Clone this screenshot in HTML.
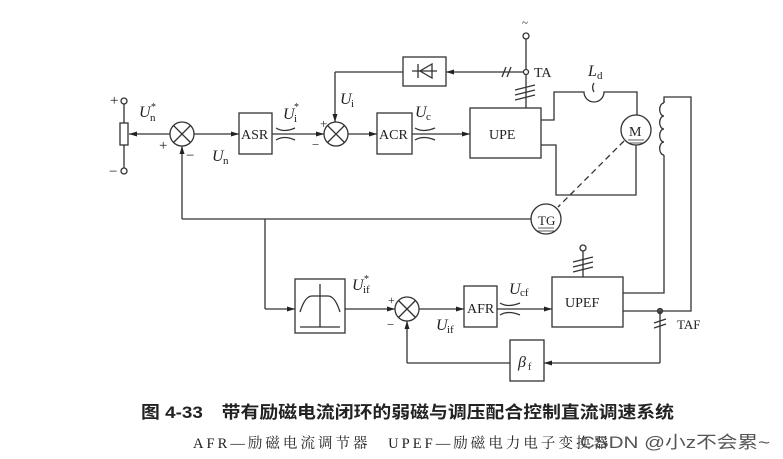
<!DOCTYPE html>
<html><head><meta charset="utf-8"><style>
html,body{margin:0;padding:0;background:#fff;width:783px;height:459px;overflow:hidden}
svg text{font-family:"Liberation Serif","Noto Serif CJK SC",serif;fill:#222}
</style></head><body>
<svg width="783" height="459" viewBox="0 0 783 459" xmlns="http://www.w3.org/2000/svg">
<defs><marker id="a" markerWidth="8" markerHeight="6" refX="8" refY="3" orient="auto" markerUnits="userSpaceOnUse"><path d="M0,0.5 L8,3 L0,5.5z" fill="#222"/></marker></defs>
<g stroke="#333" stroke-width="1.3" fill="none">
<circle cx="124" cy="101" r="3" fill="#fff"/><circle cx="124" cy="171" r="3" fill="#fff"/>
<line x1="124" y1="104" x2="124" y2="123"/><line x1="124" y1="145" x2="124" y2="168"/>
<rect x="120" y="123" width="8" height="22" fill="#fff"/>
<line x1="170" y1="134" x2="129" y2="134" marker-end="url(#a)"/>
<circle cx="182" cy="134" r="12"/><line x1="173.5" y1="125.5" x2="190.5" y2="142.5"/><line x1="190.5" y1="125.5" x2="173.5" y2="142.5"/>
<line x1="194" y1="134" x2="239" y2="134" marker-end="url(#a)"/>
<rect x="239" y="113" width="33" height="41"/>
<line x1="272" y1="134" x2="324" y2="134" marker-end="url(#a)"/>
<path d="M276,128 Q284,133 295,128 M276,140 Q284,135 295,140"/>
<circle cx="336" cy="134" r="12"/><line x1="327.5" y1="125.5" x2="344.5" y2="142.5"/><line x1="344.5" y1="125.5" x2="327.5" y2="142.5"/>
<line x1="348" y1="134" x2="377" y2="134" marker-end="url(#a)"/>
<rect x="377" y="113" width="35" height="41"/>
<line x1="412" y1="134" x2="470" y2="134" marker-end="url(#a)"/>
<path d="M415,128 Q423,133 435,128 M415,140 Q423,135 435,140"/>
<rect x="403" y="57" width="43" height="29"/>
<line x1="412" y1="71" x2="437" y2="71"/><path d="M432,64 L432,78 L420,71z"/><line x1="418" y1="64" x2="418" y2="78"/>
<line x1="526" y1="72" x2="446" y2="72" marker-end="url(#a)"/>
<line x1="403" y1="72" x2="335" y2="72"/><line x1="335" y1="72" x2="335" y2="122" marker-end="url(#a)"/>
<line x1="502" y1="77" x2="506" y2="67"/><line x1="507" y1="77" x2="511" y2="67"/>
<circle cx="526" cy="36" r="3" fill="#fff"/><line x1="526" y1="39" x2="526" y2="108"/>
<circle cx="526" cy="72" r="2.5" fill="#fff"/>
<line x1="515" y1="90" x2="535" y2="85"/><line x1="515" y1="95" x2="535" y2="90"/><line x1="515" y1="100" x2="535" y2="95"/>
<rect x="470" y="108" width="71" height="50"/>
<path d="M541,120 H554 V92 H584 A10,10 0 0 0 604,92 H637 V115"/>
<path d="M594,92 A8,8 0 0 1 594,83" />
<circle cx="636" cy="130" r="15"/>
<path d="M636,145 V195 H556 V145 H541"/>
<line x1="628" y1="140" x2="644" y2="140" stroke-width="0.8"/><line x1="628" y1="143" x2="644" y2="143" stroke-width="0.8"/>
<line x1="624" y1="141" x2="558" y2="207" stroke-dasharray="6,4"/>
<circle cx="546" cy="219" r="15"/>
<line x1="538" y1="228" x2="554" y2="228" stroke-width="0.8"/><line x1="538" y1="231" x2="554" y2="231" stroke-width="0.8"/>
<line x1="531" y1="219" x2="182" y2="219"/><line x1="182" y1="219" x2="182" y2="146" marker-end="url(#a)"/>
<line x1="265" y1="219" x2="265" y2="309"/><line x1="265" y1="309" x2="295" y2="309" marker-end="url(#a)"/>
<path d="M664,100 V103 M664,103 a4,6 0 0 0 0,13 a4,6 0 0 0 0,13 a4,6 0 0 0 0,13 a4,6 0 0 0 0,13"/>
<path d="M664,103 V97 H691 V311 H660"/>
<path d="M664,155 V293 H623"/>
<rect x="295" y="279" width="50" height="54"/>
<line x1="320" y1="284" x2="320" y2="327"/><line x1="300" y1="327" x2="340" y2="327"/>
<path d="M300,312 Q305,296 312,296 H328 Q335,296 340,312"/>
<line x1="345" y1="309" x2="395" y2="309" marker-end="url(#a)"/>
<circle cx="407" cy="309" r="12"/><line x1="398.5" y1="300.5" x2="415.5" y2="317.5"/><line x1="415.5" y1="300.5" x2="398.5" y2="317.5"/>
<line x1="419" y1="309" x2="464" y2="309" marker-end="url(#a)"/>
<rect x="464" y="286" width="33" height="41"/>
<line x1="497" y1="309" x2="552" y2="309" marker-end="url(#a)"/>
<path d="M500,303 Q508,308 520,303 M500,315 Q508,310 520,315"/>
<rect x="552" y="277" width="71" height="50"/>
<circle cx="583" cy="248" r="3" fill="#fff"/><line x1="583" y1="251" x2="583" y2="277"/>
<line x1="573" y1="262" x2="593" y2="257"/><line x1="573" y1="267" x2="593" y2="262"/><line x1="573" y1="272" x2="593" y2="267"/>
<line x1="623" y1="311" x2="660" y2="311"/>
<circle cx="660" cy="311" r="2.5" fill="#555"/>
<line x1="660" y1="311" x2="660" y2="363"/>
<line x1="654" y1="323" x2="666" y2="319"/><line x1="654" y1="328" x2="666" y2="324"/>
<line x1="660" y1="363" x2="544" y2="363" marker-end="url(#a)"/>
<rect x="510" y="340" width="34" height="41"/>
<line x1="510" y1="363" x2="407" y2="363"/><line x1="407" y1="363" x2="407" y2="321" marker-end="url(#a)"/>
</g>
<g font-size="16">
<text x="110" y="105" font-size="15">+</text><text x="109" y="176" font-size="15">−</text>
<text x="139" y="117" font-style="italic">U</text><text x="150" y="121" font-size="11">n</text><text x="151" y="110" font-size="10">*</text>
<text x="159" y="150" font-size="15">+</text><text x="186" y="160" font-size="15">−</text>
<text x="212" y="161" font-style="italic">U</text><text x="223" y="164" font-size="11">n</text>
<text x="241" y="139" font-size="14">ASR</text>
<text x="283" y="119" font-style="italic">U</text><text x="294" y="122" font-size="11">i</text><text x="294" y="110" font-size="10">*</text>
<text x="340" y="104" font-style="italic">U</text><text x="351" y="107" font-size="11">i</text>
<text x="320" y="128" font-size="13">+</text><text x="312" y="149" font-size="13">−</text>
<text x="379" y="139" font-size="14">ACR</text>
<text x="415" y="117" font-style="italic">U</text><text x="426" y="120" font-size="11">c</text>
<text x="522" y="26" font-size="11">~</text>
<text x="534" y="77" font-size="14">TA</text>
<text x="588" y="76" font-style="italic">L</text><text x="597" y="79" font-size="11">d</text>
<text x="489" y="139" font-size="14">UPE</text>
<text x="629" y="136" font-size="14">M</text>
<text x="538" y="225" font-size="13">TG</text>
<text x="352" y="290" font-style="italic">U</text><text x="363" y="293" font-size="11">if</text><text x="364" y="282" font-size="10">*</text>
<text x="388" y="304" font-size="12">+</text><text x="387" y="329" font-size="13">−</text>
<text x="436" y="330" font-style="italic">U</text><text x="447" y="333" font-size="11">if</text>
<text x="467" y="313" font-size="14">AFR</text>
<text x="509" y="294" font-style="italic">U</text><text x="520" y="296" font-size="11">cf</text>
<text x="565" y="307" font-size="14">UPEF</text>
<text x="677" y="329" font-size="13">TAF</text>
<text x="518" y="367" font-style="italic">β</text><text x="528" y="370" font-size="10">f</text>
</g>
<text x="141" y="418" font-size="17" font-weight="bold" textLength="533" lengthAdjust="spacingAndGlyphs" style="font-family:'Liberation Sans','Noto Sans CJK SC',sans-serif">图 4-33　带有励磁电流闭环的弱磁与调压配合控制直流调速系统</text>
<text x="193" y="448" font-size="14.5" textLength="415" lengthAdjust="spacing">AFR—励磁电流调节器　UPEF—励磁电力电子变换器</text>
<text x="580" y="448" font-size="17" textLength="190" lengthAdjust="spacingAndGlyphs" style="font-family:'Liberation Sans','Noto Sans CJK SC',sans-serif;fill:#555">CSDN @小z不会累~</text>
</svg>
</body></html>
